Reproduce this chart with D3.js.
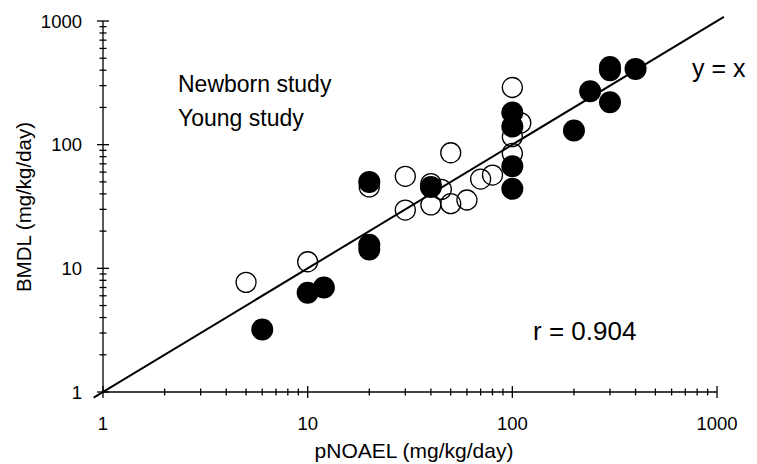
<!DOCTYPE html>
<html>
<head>
<meta charset="utf-8">
<script src="https://cdn.jsdelivr.net/npm/d3@7/dist/d3.min.js"></script>
<style>
  body { margin: 0; background: #fff; }
  svg text { font-family: "Liberation Sans", Arial, sans-serif; fill: #000; }
</style>
</head>
<body>
<div id="chart"></div>
<script>
const w = 757,
      h = 464;

// open circles
const newbornX = [5, 10, 20, 30, 30, 40, 45, 40, 50, 50, 60, 70, 80, 100, 110, 100, 100];
const newbornY = [7.7, 11.3, 45.5, 55.5, 29.6, 48.5, 43.5, 32.6, 86, 33.3, 35.7, 52.7, 56.8, 290, 150, 116, 85];
// filled circles
const youngX = [6, 10, 12, 20, 20, 20, 40, 100, 100, 100, 100, 200, 240, 300, 300, 300, 400];
const youngY = [3.2, 6.35, 7.0, 15.5, 14.2, 50, 45.5, 182, 140, 67, 44, 130, 270, 220, 425, 400, 410];

const tickValues = [1, 10, 100, 1000];
const minorTicks = d3.range(0, 3).flatMap(e => d3.range(2, 10).map(m => m * Math.pow(10, e)));

const svg = d3.select('#chart').append('svg')
              .attr('width', w)
              .attr('height', h);

const x = d3.scaleLog().domain([1, 1000]).range([103, 717]);
const y = d3.scaleLog().domain([1, 1000]).range([392, 21]);

const axisG = svg.append('g').attr('stroke', '#000').attr('stroke-width', 1.3);

// axis lines
axisG.append('line').attr('x1', x(1)).attr('x2', x(1000)).attr('y1', y(1)).attr('y2', y(1));
axisG.append('line').attr('x1', x(1)).attr('x2', x(1)).attr('y1', y(1)).attr('y2', y(1000));

// x ticks
axisG.selectAll('line.xminor').data(minorTicks).enter().append('line')
     .attr('class', 'xminor')
     .attr('x1', d => x(d)).attr('x2', d => x(d))
     .attr('y1', y(1) - 3.5).attr('y2', y(1) + 3.5);
axisG.selectAll('line.xmajor').data(tickValues).enter().append('line')
     .attr('class', 'xmajor')
     .attr('x1', d => x(d)).attr('x2', d => x(d))
     .attr('y1', y(1) - 6).attr('y2', y(1) + 6);

// y ticks
axisG.selectAll('line.yminor').data(minorTicks).enter().append('line')
     .attr('class', 'yminor')
     .attr('y1', d => y(d)).attr('y2', d => y(d))
     .attr('x1', x(1) - 3.5).attr('x2', x(1) + 3.5);
axisG.selectAll('line.ymajor').data(tickValues).enter().append('line')
     .attr('class', 'ymajor')
     .attr('y1', d => y(d)).attr('y2', d => y(d))
     .attr('x1', x(1) - 6).attr('x2', x(1) + 6);

// tick labels
svg.selectAll('text.xlab').data(tickValues).enter().append('text')
   .attr('class', 'xlab')
   .attr('x', d => x(d)).attr('y', 430)
   .attr('text-anchor', 'middle')
   .style('font-size', '18.5px')
   .text(d => d);
svg.selectAll('text.ylab').data(tickValues).enter().append('text')
   .attr('class', 'ylab')
   .attr('x', 82).attr('y', d => y(d) + 6.5)
   .attr('text-anchor', 'end')
   .style('font-size', '18.5px')
   .text(d => d);

// axis titles
svg.append('text').attr('x', 414).attr('y', 458)
   .attr('text-anchor', 'middle').style('font-size', '21px')
   .text('pNOAEL (mg/kg/day)');
svg.append('text').attr('transform', 'translate(31,207) rotate(-90)')
   .attr('text-anchor', 'middle').style('font-size', '20.5px')
   .text('BMDL (mg/kg/day)');

// y = x line
const identity = [0.9, 1080];
svg.append('line')
   .attr('x1', x(identity[0])).attr('y1', y(identity[0]))
   .attr('x2', x(identity[1])).attr('y2', y(identity[1]))
   .attr('stroke', '#000').attr('stroke-width', 2);

// points
svg.selectAll('circle.open').data(d3.zip(newbornX, newbornY)).enter().append('circle')
   .attr('class', 'open')
   .attr('cx', d => x(d[0])).attr('cy', d => y(d[1]))
   .attr('r', 10)
   .attr('fill', 'none').attr('stroke', '#000').attr('stroke-width', 1.3);
svg.selectAll('circle.filled').data(d3.zip(youngX, youngY)).enter().append('circle')
   .attr('class', 'filled')
   .attr('cx', d => x(d[0])).attr('cy', d => y(d[1]))
   .attr('r', 11)
   .attr('fill', '#000');

// annotations
svg.append('text').attr('x', 178).attr('y', 92).style('font-size', '23px').text('Newborn study');
svg.append('text').attr('x', 178).attr('y', 126).style('font-size', '23px').text('Young study');
svg.append('text').attr('x', 692).attr('y', 77).style('font-size', '25px').text('y = x');
svg.append('text').attr('x', 533).attr('y', 340).style('font-size', '26px').text('r = 0.904');
</script>
</body>
</html>
